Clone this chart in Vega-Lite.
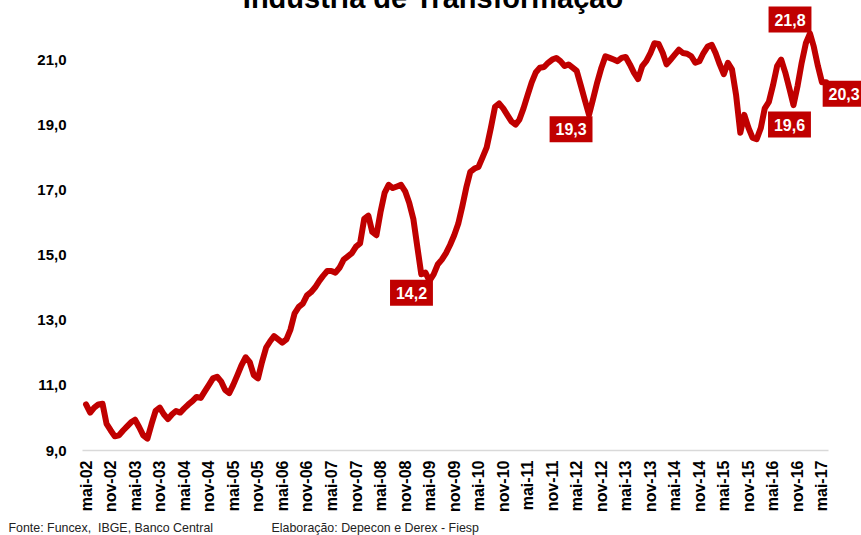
{
  "$schema": "https://vega.github.io/schema/vega-lite/v6.json",
  "width": 746,
  "height": 423,
  "autosize": {"type": "none"},
  "padding": {"left": 82, "top": 27, "right": 33, "bottom": 85},
  "background": "white",
  "title": {"text": "Indústria de Transformação", "fontSize": 29, "font": "Liberation Sans", "fontWeight": "bold", "color": "#000000", "anchor": "middle", "frame": "group", "dx": -22, "offset": 0, "dy": 30, "baseline": "alphabetic"},
  "data": {
    "format": {"parse": {"d": "date:'%Y-%m'"}},
    "values": [
      {"d": "2002-05", "v": 10.40}, {"d": "2002-06", "v": 10.15}, {"d": "2002-07", "v": 10.30}, {"d": "2002-08", "v": 10.40},
      {"d": "2002-09", "v": 10.42}, {"d": "2002-10", "v": 9.80}, {"d": "2002-11", "v": 9.60}, {"d": "2002-12", "v": 9.42},
      {"d": "2003-01", "v": 9.45}, {"d": "2003-02", "v": 9.60}, {"d": "2003-03", "v": 9.72}, {"d": "2003-04", "v": 9.85},
      {"d": "2003-05", "v": 9.93}, {"d": "2003-06", "v": 9.70}, {"d": "2003-07", "v": 9.45}, {"d": "2003-08", "v": 9.35},
      {"d": "2003-09", "v": 9.80}, {"d": "2003-10", "v": 10.20}, {"d": "2003-11", "v": 10.30}, {"d": "2003-12", "v": 10.10},
      {"d": "2004-01", "v": 9.95}, {"d": "2004-02", "v": 10.10}, {"d": "2004-03", "v": 10.20}, {"d": "2004-04", "v": 10.15},
      {"d": "2004-05", "v": 10.28}, {"d": "2004-06", "v": 10.40}, {"d": "2004-07", "v": 10.50}, {"d": "2004-08", "v": 10.63},
      {"d": "2004-09", "v": 10.60}, {"d": "2004-10", "v": 10.80}, {"d": "2004-11", "v": 11.00}, {"d": "2004-12", "v": 11.20},
      {"d": "2005-01", "v": 11.25}, {"d": "2005-02", "v": 11.10}, {"d": "2005-03", "v": 10.85}, {"d": "2005-04", "v": 10.75},
      {"d": "2005-05", "v": 11.00}, {"d": "2005-06", "v": 11.30}, {"d": "2005-07", "v": 11.60}, {"d": "2005-08", "v": 11.85},
      {"d": "2005-09", "v": 11.70}, {"d": "2005-10", "v": 11.30}, {"d": "2005-11", "v": 11.20}, {"d": "2005-12", "v": 11.70},
      {"d": "2006-01", "v": 12.15}, {"d": "2006-02", "v": 12.35}, {"d": "2006-03", "v": 12.50}, {"d": "2006-04", "v": 12.40},
      {"d": "2006-05", "v": 12.30}, {"d": "2006-06", "v": 12.40}, {"d": "2006-07", "v": 12.70}, {"d": "2006-08", "v": 13.20},
      {"d": "2006-09", "v": 13.40}, {"d": "2006-10", "v": 13.50}, {"d": "2006-11", "v": 13.75}, {"d": "2006-12", "v": 13.85},
      {"d": "2007-01", "v": 14.00}, {"d": "2007-02", "v": 14.20}, {"d": "2007-03", "v": 14.35}, {"d": "2007-04", "v": 14.50},
      {"d": "2007-05", "v": 14.50}, {"d": "2007-06", "v": 14.45}, {"d": "2007-07", "v": 14.60}, {"d": "2007-08", "v": 14.85},
      {"d": "2007-09", "v": 14.95}, {"d": "2007-10", "v": 15.05}, {"d": "2007-11", "v": 15.25}, {"d": "2007-12", "v": 15.35},
      {"d": "2008-01", "v": 16.10}, {"d": "2008-02", "v": 16.20}, {"d": "2008-03", "v": 15.70}, {"d": "2008-04", "v": 15.60},
      {"d": "2008-05", "v": 16.30}, {"d": "2008-06", "v": 16.90}, {"d": "2008-07", "v": 17.15}, {"d": "2008-08", "v": 17.05},
      {"d": "2008-09", "v": 17.10}, {"d": "2008-10", "v": 17.15}, {"d": "2008-11", "v": 16.95}, {"d": "2008-12", "v": 16.60},
      {"d": "2009-01", "v": 16.10}, {"d": "2009-02", "v": 15.20}, {"d": "2009-03", "v": 14.40}, {"d": "2009-04", "v": 14.45},
      {"d": "2009-05", "v": 14.20, "lab": "14,2"}, {"d": "2009-06", "v": 14.40}, {"d": "2009-07", "v": 14.70}, {"d": "2009-08", "v": 14.85},
      {"d": "2009-09", "v": 15.05}, {"d": "2009-10", "v": 15.30}, {"d": "2009-11", "v": 15.60}, {"d": "2009-12", "v": 15.95},
      {"d": "2010-01", "v": 16.50}, {"d": "2010-02", "v": 17.10}, {"d": "2010-03", "v": 17.55}, {"d": "2010-04", "v": 17.65},
      {"d": "2010-05", "v": 17.70}, {"d": "2010-06", "v": 18.00}, {"d": "2010-07", "v": 18.30}, {"d": "2010-08", "v": 18.90},
      {"d": "2010-09", "v": 19.55}, {"d": "2010-10", "v": 19.65}, {"d": "2010-11", "v": 19.50}, {"d": "2010-12", "v": 19.30},
      {"d": "2011-01", "v": 19.10}, {"d": "2011-02", "v": 19.00}, {"d": "2011-03", "v": 19.15}, {"d": "2011-04", "v": 19.50},
      {"d": "2011-05", "v": 19.90}, {"d": "2011-06", "v": 20.30}, {"d": "2011-07", "v": 20.60}, {"d": "2011-08", "v": 20.75},
      {"d": "2011-09", "v": 20.77}, {"d": "2011-10", "v": 20.90}, {"d": "2011-11", "v": 21.00}, {"d": "2011-12", "v": 21.05},
      {"d": "2012-01", "v": 20.95}, {"d": "2012-02", "v": 20.80}, {"d": "2012-03", "v": 20.85}, {"d": "2012-04", "v": 20.75},
      {"d": "2012-05", "v": 20.65}, {"d": "2012-06", "v": 20.20}, {"d": "2012-07", "v": 19.75}, {"d": "2012-08", "v": 19.30, "lab": "19,3"},
      {"d": "2012-09", "v": 19.80}, {"d": "2012-10", "v": 20.30}, {"d": "2012-11", "v": 20.75}, {"d": "2012-12", "v": 21.10},
      {"d": "2013-01", "v": 21.05}, {"d": "2013-02", "v": 21.00}, {"d": "2013-03", "v": 20.95}, {"d": "2013-04", "v": 21.05},
      {"d": "2013-05", "v": 21.08}, {"d": "2013-06", "v": 20.85}, {"d": "2013-07", "v": 20.60}, {"d": "2013-08", "v": 20.40},
      {"d": "2013-09", "v": 20.80}, {"d": "2013-10", "v": 20.95}, {"d": "2013-11", "v": 21.20}, {"d": "2013-12", "v": 21.50},
      {"d": "2014-01", "v": 21.48}, {"d": "2014-02", "v": 21.20}, {"d": "2014-03", "v": 20.85}, {"d": "2014-04", "v": 21.00},
      {"d": "2014-05", "v": 21.15}, {"d": "2014-06", "v": 21.30}, {"d": "2014-07", "v": 21.20}, {"d": "2014-08", "v": 21.18},
      {"d": "2014-09", "v": 21.10}, {"d": "2014-10", "v": 20.90}, {"d": "2014-11", "v": 20.95}, {"d": "2014-12", "v": 21.20},
      {"d": "2015-01", "v": 21.40}, {"d": "2015-02", "v": 21.45}, {"d": "2015-03", "v": 21.20}, {"d": "2015-04", "v": 20.85},
      {"d": "2015-05", "v": 20.55}, {"d": "2015-06", "v": 20.90}, {"d": "2015-07", "v": 20.70}, {"d": "2015-08", "v": 19.90},
      {"d": "2015-09", "v": 18.75}, {"d": "2015-10", "v": 19.30}, {"d": "2015-11", "v": 18.90}, {"d": "2015-12", "v": 18.60},
      {"d": "2016-01", "v": 18.55}, {"d": "2016-02", "v": 18.90}, {"d": "2016-03", "v": 19.50}, {"d": "2016-04", "v": 19.70},
      {"d": "2016-05", "v": 20.20}, {"d": "2016-06", "v": 20.80}, {"d": "2016-07", "v": 21.00}, {"d": "2016-08", "v": 20.60},
      {"d": "2016-09", "v": 20.10}, {"d": "2016-10", "v": 19.60, "lab": "19,6"}, {"d": "2016-11", "v": 20.20}, {"d": "2016-12", "v": 20.90},
      {"d": "2017-01", "v": 21.50}, {"d": "2017-02", "v": 21.80, "lab": "21,8"}, {"d": "2017-03", "v": 21.40}, {"d": "2017-04", "v": 20.80},
      {"d": "2017-05", "v": 20.30}, {"d": "2017-06", "v": 20.30, "lab": "20,3"}
    ]
  },
  "encoding": {
    "x": {
      "field": "d", "type": "temporal",
      "scale": {"domain": [{"year": 2002, "month": 4, "date": 1}, {"year": 2017, "month": 6, "date": 15}]},
      "axis": {
        "values": [
          {"year": 2002, "month": 5, "date": 1}, {"year": 2002, "month": 11, "date": 1},
          {"year": 2003, "month": 5, "date": 1}, {"year": 2003, "month": 11, "date": 1},
          {"year": 2004, "month": 5, "date": 1}, {"year": 2004, "month": 11, "date": 1},
          {"year": 2005, "month": 5, "date": 1}, {"year": 2005, "month": 11, "date": 1},
          {"year": 2006, "month": 5, "date": 1}, {"year": 2006, "month": 11, "date": 1},
          {"year": 2007, "month": 5, "date": 1}, {"year": 2007, "month": 11, "date": 1},
          {"year": 2008, "month": 5, "date": 1}, {"year": 2008, "month": 11, "date": 1},
          {"year": 2009, "month": 5, "date": 1}, {"year": 2009, "month": 11, "date": 1},
          {"year": 2010, "month": 5, "date": 1}, {"year": 2010, "month": 11, "date": 1},
          {"year": 2011, "month": 5, "date": 1}, {"year": 2011, "month": 11, "date": 1},
          {"year": 2012, "month": 5, "date": 1}, {"year": 2012, "month": 11, "date": 1},
          {"year": 2013, "month": 5, "date": 1}, {"year": 2013, "month": 11, "date": 1},
          {"year": 2014, "month": 5, "date": 1}, {"year": 2014, "month": 11, "date": 1},
          {"year": 2015, "month": 5, "date": 1}, {"year": 2015, "month": 11, "date": 1},
          {"year": 2016, "month": 5, "date": 1}, {"year": 2016, "month": 11, "date": 1},
          {"year": 2017, "month": 5, "date": 1}
        ],
        "labelExpr": "(month(datum.value) == 4 ? 'mai-' : 'nov-') + timeFormat(datum.value, '%y')",
        "labelAngle": -90,
        "labelFontSize": 16,
        "labelFontWeight": "bold",
        "labelColor": "#000000",
        "labelPadding": 10,
        "labelOverlap": false,
        "labelFlush": false,
        "ticks": false,
        "grid": false,
        "domainColor": "#d9d9d9",
        "domainWidth": 1.5,
        "title": "Fonte: Funcex,\u00a0 IBGE, Banco Central\u00a0\u00a0\u00a0\u00a0\u00a0\u00a0\u00a0\u00a0\u00a0\u00a0\u00a0\u00a0\u00a0\u00a0\u00a0\u00a0\u00a0Elaboração: Depecon e Derex - Fiesp",
        "titleX": -74,
        "titleY": 81,
        "titleAlign": "left",
        "titleAnchor": "start",
        "titleBaseline": "alphabetic",
        "titleFontSize": 12.4,
        "titleFontWeight": "normal",
        "titleColor": "#222222"
      }
    },
    "y": {
      "field": "v", "type": "quantitative",
      "scale": {"domain": [9, 22], "nice": false, "zero": false},
      "axis": {
        "values": [9, 11, 13, 15, 17, 19, 21],
        "labelExpr": "replace(format(datum.value, '.1f'), '.', ',')",
        "labelFontSize": 15,
        "labelFontWeight": "bold",
        "labelColor": "#000000",
        "labelPadding": 16,
        "ticks": false,
        "grid": false,
        "domain": false,
        "title": null
      }
    }
  },
  "layer": [
    {"mark": {"type": "line", "color": "#c00000", "strokeWidth": 6, "strokeJoin": "round", "strokeCap": "round"}},
    {"transform": [{"filter": "datum.lab == '14,2'"}], "layer": [
      {"mark": {"type": "point", "shape": "M-1.65,-1H1.65V1H-1.65Z", "size": 676, "filled": true, "color": "#c00000", "opacity": 1, "strokeWidth": 0, "xOffset": -18, "yOffset": 12}},
      {"mark": {"type": "text", "color": "#ffffff", "fontSize": 16, "fontWeight": "bold", "align": "center", "baseline": "middle", "xOffset": -18, "yOffset": 13}, "encoding": {"text": {"field": "lab"}}}
    ]},
    {"transform": [{"filter": "datum.lab == '19,3'"}], "layer": [
      {"mark": {"type": "point", "shape": "M-1.65,-1H1.65V1H-1.65Z", "size": 676, "filled": true, "color": "#c00000", "opacity": 1, "strokeWidth": 0, "xOffset": -18, "yOffset": 14.5}},
      {"mark": {"type": "text", "color": "#ffffff", "fontSize": 16, "fontWeight": "bold", "align": "center", "baseline": "middle", "xOffset": -18, "yOffset": 15.5}, "encoding": {"text": {"field": "lab"}}}
    ]},
    {"transform": [{"filter": "datum.lab == '21,8'"}], "layer": [
      {"mark": {"type": "point", "shape": "M-1.65,-1H1.65V1H-1.65Z", "size": 676, "filled": true, "color": "#c00000", "opacity": 1, "strokeWidth": 0, "xOffset": -20, "yOffset": -14}},
      {"mark": {"type": "text", "color": "#ffffff", "fontSize": 16, "fontWeight": "bold", "align": "center", "baseline": "middle", "xOffset": -20, "yOffset": -13}, "encoding": {"text": {"field": "lab"}}}
    ]},
    {"transform": [{"filter": "datum.lab == '19,6'"}], "layer": [
      {"mark": {"type": "point", "shape": "M-1.65,-1H1.65V1H-1.65Z", "size": 676, "filled": true, "color": "#c00000", "opacity": 1, "strokeWidth": 0, "xOffset": -4, "yOffset": 19.5}},
      {"mark": {"type": "text", "color": "#ffffff", "fontSize": 16, "fontWeight": "bold", "align": "center", "baseline": "middle", "xOffset": -4, "yOffset": 20.5}, "encoding": {"text": {"field": "lab"}}}
    ]},
    {"transform": [{"filter": "datum.lab == '20,3'"}], "layer": [
      {"mark": {"type": "point", "shape": "M-1.65,-1H1.65V1H-1.65Z", "size": 676, "filled": true, "color": "#c00000", "opacity": 1, "strokeWidth": 0, "xOffset": 18, "yOffset": 11.5}},
      {"mark": {"type": "text", "color": "#ffffff", "fontSize": 16, "fontWeight": "bold", "align": "center", "baseline": "middle", "xOffset": 18, "yOffset": 12.5}, "encoding": {"text": {"field": "lab"}}}
    ]}
  ],
  "config": {"view": {"stroke": null}, "font": "Liberation Sans"}
}
